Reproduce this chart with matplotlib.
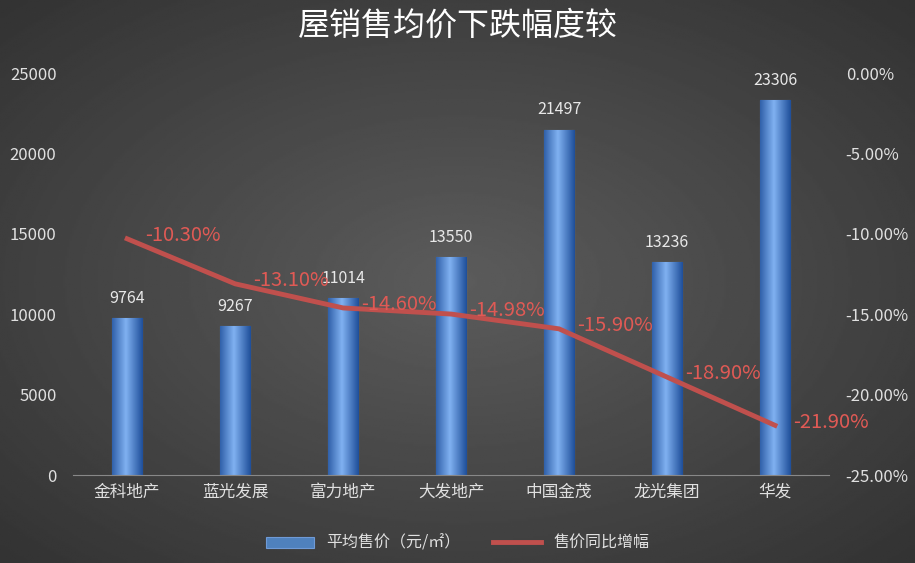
import matplotlib.pyplot as plt
import numpy as np
from matplotlib.colors import LinearSegmentedColormap

plt.rcParams['font.family'] = ['Noto Sans CJK SC', 'DejaVu Sans']

companies = ["金科地产", "蓝光发展", "富力地产", "大发地产", "中国金茂", "龙光集团", "华发"]
avg_price = [9764, 9267, 11014, 13550, 21497, 13236, 23306]
change_pct = [-10.30, -13.10, -14.60, -14.98, -15.90, -18.90, -21.90]

fig = plt.figure(figsize=(9.15, 5.63), dpi=100)

# radial dark-gray background
bg = fig.add_axes([0, 0, 1, 1], zorder=-10)
yy, xx = np.mgrid[-1:1:300j, -1:1:500j]
r = np.sqrt(xx ** 2 + yy ** 2)
bg.imshow(0.36 - 0.16 * np.clip(r, 0, 1.4) / 1.4, cmap='gray', vmin=0, vmax=1,
          aspect='auto', extent=[0, 1, 0, 1])
bg.axis('off')

ax = fig.add_axes([0.08, 0.156, 0.826, 0.714])
ax.patch.set_alpha(0)
x = np.arange(len(companies))
bars = ax.bar(x, avg_price, width=0.28, color='#4f81bd', edgecolor='#6f9ad6',
              linewidth=0.8, zorder=2, label='平均售价（元/㎡）')
# horizontal gradient on each bar
grad = np.linspace(0, 1, 64)
grad = 1 - np.abs(grad - 0.45) * 1.6
grad = np.tile(grad, (2, 1))
cmap = LinearSegmentedColormap.from_list('b', ['#1f4f9a', '#7fb0f0'])
for b in bars:
    im = ax.imshow(grad, cmap=cmap, aspect='auto', zorder=2.5,
                   extent=[b.get_x(), b.get_x() + b.get_width(), 0, b.get_height()])
    im.set_clip_path(b)
for xi, v in zip(x, avg_price):
    ax.text(xi, v + 700, str(v), ha='center', va='bottom', color='#e8e8e8', fontsize=11.5)

ax.set_xlim(-0.5, len(companies) - 0.5)
ax.set_ylim(0, 25000)
ax.set_yticks(range(0, 25001, 5000))
ax.set_xticks(x)
ax.set_xticklabels(companies)
ax.tick_params(colors='#e0e0e0', labelsize=12, length=0, pad=12)
ax.tick_params(axis='x', pad=6)
for s in ax.spines.values():
    s.set_visible(False)
ax.spines['bottom'].set_visible(True)
ax.spines['bottom'].set_color('#888888')

ax2 = ax.twinx()
ax2.set_ylim(-25, 0)
ax2.set_yticks(range(-25, 1, 5))
ax2.set_yticklabels([f"{t:.2f}%" for t in range(-25, 1, 5)])
ax2.tick_params(colors='#e0e0e0', labelsize=12, length=0, pad=12)
for s in ax2.spines.values():
    s.set_visible(False)
ax2.plot(x, change_pct, color='#c0504d', linewidth=3.5, zorder=3, label='售价同比增幅')
for xi, v in zip(x, change_pct):
    ax2.text(xi + 0.17, v + 0.2, f"{v:.2f}%", ha='left', va='center',
             color='#e05a55', fontsize=14.5)

fig.text(0.5, 0.955, '屋销售均价下跌幅度较', ha='center', va='center', color='white', fontsize=23)

h1, l1 = ax.get_legend_handles_labels()
h2, l2 = ax2.get_legend_handles_labels()
fig.legend(h1 + h2, l1 + l2, loc='center', bbox_to_anchor=(0.5, 0.035), ncol=2,
           frameon=False, labelcolor='#e0e0e0', fontsize=11.5, handlelength=3)

fig.savefig('out.png', dpi=100)
